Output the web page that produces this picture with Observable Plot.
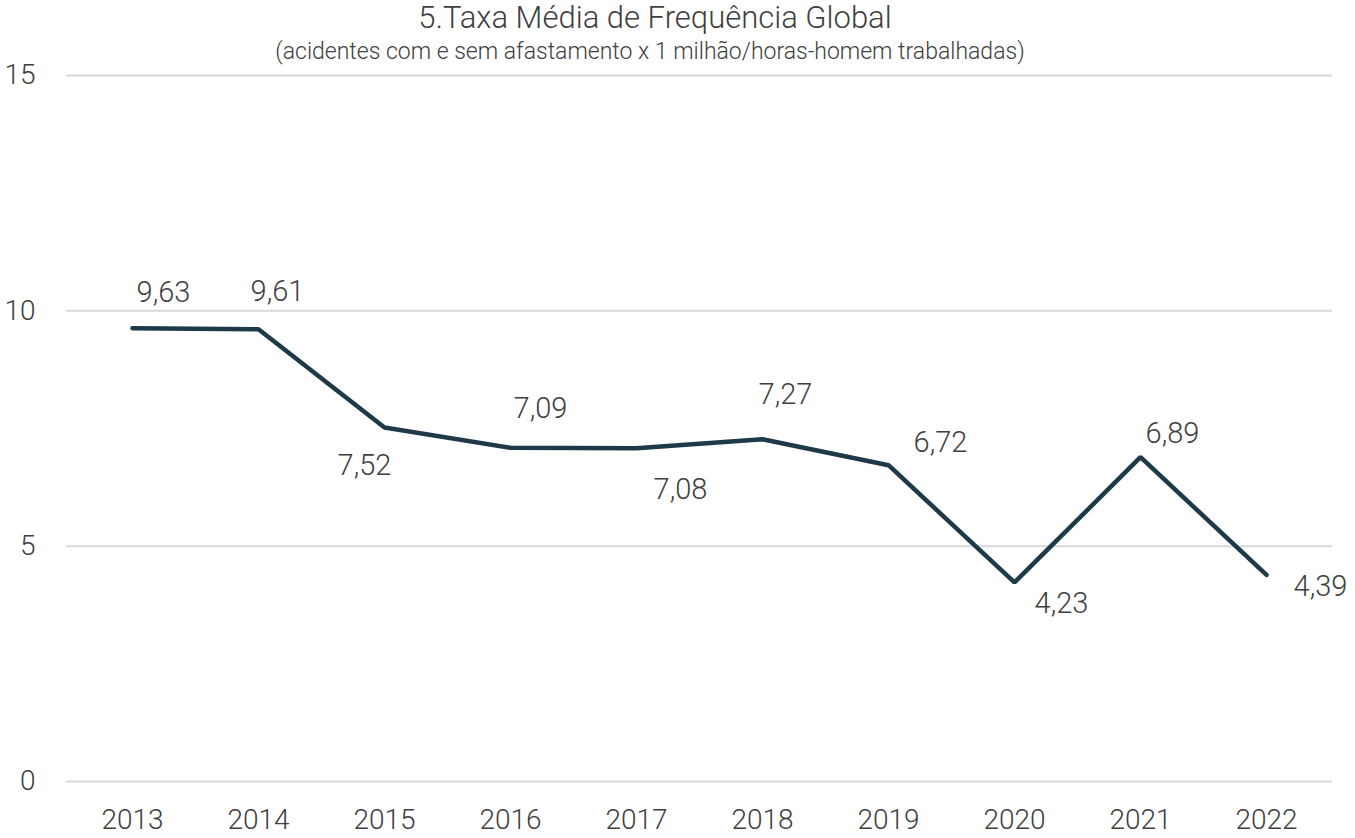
<!DOCTYPE html>
<html>
<head>
<meta charset="utf-8">
<script src="https://cdn.jsdelivr.net/npm/d3@7"></script>
<script src="https://cdn.jsdelivr.net/npm/@observablehq/plot@0.6"></script>
<style>
  html, body { margin: 0; padding: 0; background: #fff; }
  body { width: 1355px; height: 838px; overflow: hidden; font-family: Roboto, "Noto Sans", sans-serif; font-weight: 300; color: #404040; }
  #header { position: relative; height: 44px; width: 1355px; }
  #title { position: absolute; left: 0; width: 1310px; top: 0px; text-align: center; font-size: 31px; line-height: 36px; color: #404040; }
  #subtitle { position: absolute; left: 0; width: 1300px; top: 39px; text-align: center; font-size: 23px; line-height: 26px; color: #404040; z-index: 2; }
  #chart svg { font-weight: 300; }
</style>
</head>
<body>
<div id="header">
  <div id="title">5.Taxa Média de Frequência Global</div>
  <div id="subtitle">(acidentes com e sem afastamento x 1 milhão/horas-homem trabalhadas)</div>
</div>
<div id="chart"></div>
<script>
const years = ["2013","2014","2015","2016","2017","2018","2019","2020","2021","2022"];
const values = [9.63, 9.61, 7.52, 7.09, 7.08, 7.27, 6.72, 4.23, 6.89, 4.39];
const yTicks = [0, 5, 10, 15];
// label placement (offsets of each data label from its point, in px)
const labelDx = [31, 19, -20, 30, 44, 23, 52, 47, 32, 54];
const labelDy = [-36, -37, 38, -39, 41, -45, -22, 21, -23, 12];

const data = years.map((y, i) => ({year: y, value: values[i], label: values[i].toFixed(2).replace(".", ","), dx: labelDx[i], dy: labelDy[i]}));

const chart = Plot.plot({
  width: 1355,
  height: 794,
  marginTop: 31,
  marginBottom: 57,
  marginLeft: 66,
  marginRight: 23,
  style: {fontFamily: "Roboto, 'Noto Sans', sans-serif", fontSize: "28px", fontWeight: 300, color: "#404040", background: "transparent"},
  x: {type: "point", domain: years, padding: 0.5, label: null, tickSize: 0, tickPadding: 28},
  y: {domain: [0, 15], ticks: yTicks, label: null, tickSize: 0, tickPadding: 31},
  marks: [
    Plot.ruleY(yTicks, {stroke: "#d9d9d9", strokeWidth: 2}),
    Plot.line(data, {x: "year", y: "value", stroke: "#1e3a48", strokeWidth: 4.5, strokeLinejoin: "miter", strokeLinecap: "round"}),
    ...data.map(d => Plot.text([d], {x: "year", y: "value", text: "label", dx: d.dx, dy: d.dy, fontSize: 29, fontWeight: 300, fill: "#404040", textAnchor: "middle", lineAnchor: "middle"}))
  ]
});
document.getElementById("chart").appendChild(chart);
</script>
</body>
</html>
